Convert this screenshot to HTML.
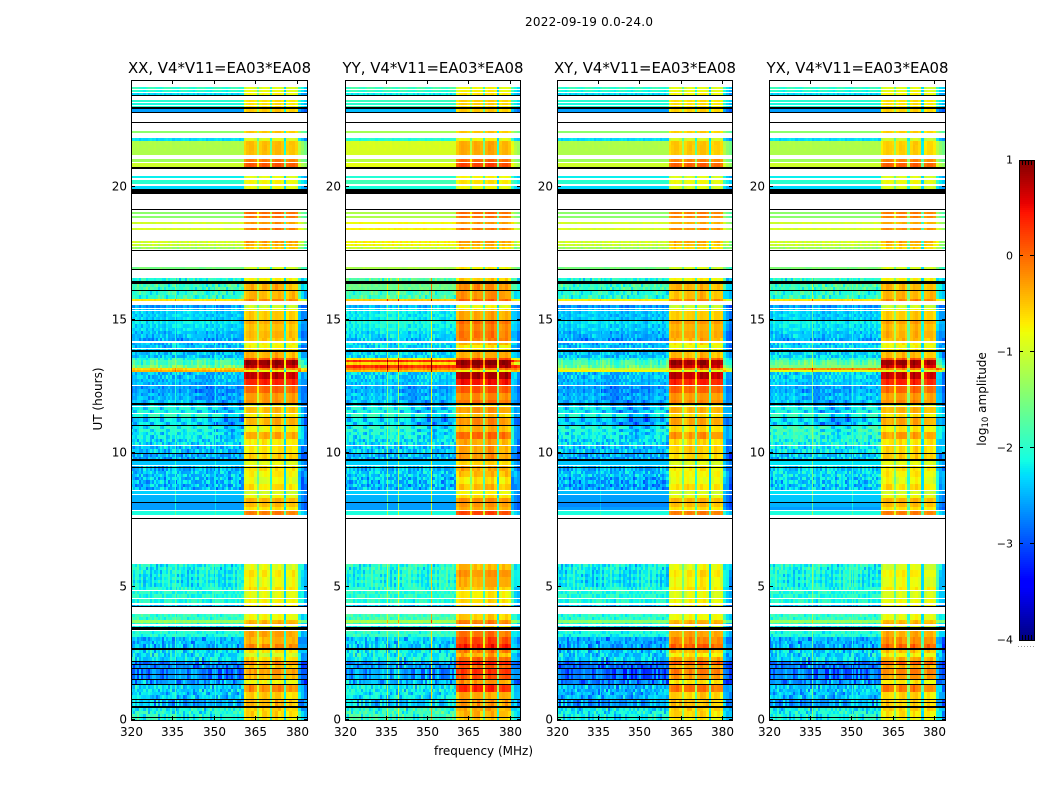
<!DOCTYPE html>
<html lang="en">
<head>
<meta charset="utf-8">
<title>2022-09-19 0.0-24.0</title>
<style>
html,body{margin:0;padding:0;background:#fff;width:1050px;height:800px;overflow:hidden}
svg{display:block}
text{font-family:"DejaVu Sans","Liberation Sans",sans-serif;fill:#000}
</style>
</head>
<body>
<svg id="figure" xmlns="http://www.w3.org/2000/svg" width="1050" height="800" viewBox="0 0 1050 800">
  <text x="589" y="26" font-size="12" text-anchor="middle" textLength="128">2022-09-19 0.0-24.0</text>
  <text x="483.5" y="755" font-size="12" text-anchor="middle">frequency (MHz)</text>
  <text x="0" y="0" font-size="12" text-anchor="middle" transform="translate(102 399) rotate(-90)">UT (hours)</text>
  <text x="0" y="0" font-size="12" text-anchor="middle" transform="translate(986 399) rotate(-90)">log<tspan font-size="8.5" dy="2">10</tspan><tspan dy="-2"> amplitude</tspan></text>
</svg>
<script>
/* ---------- chart data ---------- */
const W = 'white';
const K = 'black';

const panelNames = ['XX', 'YY', 'XY', 'YX'];
const baselineLabel = 'V4*V11=EA03*EA08';
const xTickValues = [320, 335, 350, 365, 380];
const yTickValues = [0, 5, 10, 15, 20];
const cbarTickValues = [1, 0, -1, -2, -3, -4];
const freqMin = 320;
const freqMax = 384;
const hourMin = 0;
const hourMax = 24;
const levelMin = -4;
const levelMax = 1;

/* frequency channels: 0.75 MHz background channels up to bandStart, then these edges (MHz) */
const backgroundChannelMHz = 0.75;
const bandStart = 360.7;
const bandEdges = [361.5,362.5,363.5,364.5,365.5,366.2,367.2,368.2,369.2,370.2,371.1,372.1,373.1,374.2,375.3,376.2,377.2,378.3,379.3,380.4,381.5,382.7,384];
const bandKind = 'SSSSSGSSSSGSSSSGSSSSEEE';
const bandChannelOffset = [-0.12,0.02,0.08,0.05,-0.03, -0.75, -0.05,0.06,0.06,-0.02, -1.15, 0,0.1,0.1,-0.02, -1.6, -0.1,0,0.02,-0.1, 0.05,-0.2,-0.35];

/* time rows, top edge in hours; each row runs down to the next edge */
const rowTop = [
 24.00,23.74,23.66,23.63,23.55,23.51,23.44,23.40,23.25,23.18,
 23.14,23.06,23.03,22.97,22.93,22.91,22.80,22.76,22.43,22.39,
 22.09,22.01,21.83,21.71,21.19,21.04,20.94,20.89,20.74,20.66,
 20.40,20.33,20.25,20.10,20.03,19.91,19.73,19.16,19.13,19.05,
 18.98,18.90,18.83,18.68,18.60,18.45,18.38,17.96,17.89,17.85,
 17.78,17.74,17.66,17.63,17.59,16.99,16.91,16.88,16.58,16.46,
 16.35,16.13,16.09,15.79,15.71,15.56,15.45,15.41,15.38,15.34,
 15.00,14.96,14.21,14.14,13.95,13.91,13.86,13.80,13.58,13.50,
 13.42,13.31,13.20,13.13,13.05,12.56,12.53,11.89,11.83,11.78,
 11.74,11.51,11.48,11.36,11.31,11.06,11.03,10.31,10.28,10.03,
 9.99,9.77,9.73,9.56,9.53,9.49,9.45,8.63,8.59,8.48,
 8.44,8.18,8.12,7.89,7.84,7.67,7.58,7.54,5.85,4.88,
 4.84,4.58,4.54,4.39,4.33,4.28,4.24,3.98,3.75,3.64,
 3.60,3.53,3.47,3.39,3.34,3.11,2.70,2.64,2.23,2.19,
 2.10,2.06,1.95,1.91,1.73,1.67,1.54,1.50,1.35,1.31,
 0.79,0.75,0.68,0.64,0.51,0.45,0.13,0.09];

/* log10 amplitude per row, background part of the band */
const rowBackground = [
 W,-2.0,W,-2.1,W,-2.4,K,W,-2.0,W,
 -2.1,W,-2.0,K,W,-2.6,K,W,K,W,
 -1.4,W,-2.3,-1.2,W,-1.3,W,-1.0,K,W,
 -2.2,W,-2.0,W,-2.3,K,W,K,W,-1.4,
 W,-1.4,W,-1.0,W,-1.0,W,-1.0,W,-1.05,
 W,-1.3,W,K,W,-1.5,K,W,-2.1,K,
 -1.9,K,-2.0,-0.6,W,-2.6,W,-2.4,W,-2.55,
 K,-2.55,W,-2.4,W,-2.3,K,-2.35,-2.0,-1.8,
 -1.8,-1.8,-0.6,-1.0,-2.5,W,-2.5,K,-2.4,W,
 -2.4,W,-2.3,K,-2.6,K,-2.35,W,-2.4,K,
 -2.55,K,-2.4,W,-2.4,K,-2.5,W,-2.35,W,
 -2.5,K,-2.6,W,-2.1,W,K,W,-2.2,W,
 -2.2,W,-2.05,W,-2.4,K,W,-2.05,-1.4,-2.2,
 W,-2.3,K,W,-2.3,-2.4,K,-2.2,K,-2.7,
 K,-2.65,K,-2.7,K,-2.65,K,-2.55,K,-2.3,
 K,-2.45,K,-2.45,K,-2.1,K,-2.1];

/* log10 amplitude per row, the strong 361-380 MHz sub-bands */
const rowBand = [
 W,-1.0,W,-0.95,W,-0.9,K,W,-0.75,W,
 -0.75,W,-0.75,K,W,-0.6,K,W,K,W,
 -0.6,W,-1.0,-0.55,W,-0.2,W,0.0,K,W,
 -0.95,W,-0.85,W,-0.9,K,W,K,W,-0.1,
 W,-0.15,W,-0.35,W,-0.25,W,-0.35,W,-0.5,
 W,-0.6,W,K,W,-1.0,K,W,-0.85,K,
 -0.5,K,-0.4,-0.4,W,-1.0,W,-0.8,W,-0.8,
 K,-0.55,W,-0.85,W,-0.7,K,-0.35,0.2,0.85,
 0.85,0.85,0.0,-0.7,0.5,W,-0.25,K,-0.95,W,
 -0.85,W,-0.8,K,-0.9,K,-0.7,W,-0.85,K,
 -0.85,K,-0.85,W,-0.85,K,-0.85,W,-0.85,W,
 -0.7,K,-0.75,W,-0.2,W,K,W,-0.9,W,
 -0.9,W,-0.85,W,-0.8,K,W,-0.8,-0.9,-0.8,
 W,-0.7,K,W,-0.7,-0.35,K,-0.85,K,-0.4,
 K,-0.45,K,-0.45,K,-0.6,K,-0.65,K,-0.5,
 K,-0.65,K,-0.65,K,-0.6,K,-0.75];

/* per-hour offsets of each correlation relative to the rows above (index = hour) */
const backgroundOffsetXX = [0,0,0,0,0,0,0,0,0,0,0,0,0,0,0,0,0,0,0,0,0,0,0,0];
const backgroundOffsetYY = [.15,.15,.1,.1,.05,.1,0,0,0,.05,.05,0,.1,.1,.15,.15,.3,.25,.2,.2,.15,.25,.15,.1];
const backgroundOffsetXY = [-.1,-.15,-.1,-.05,0,-.05,0,0,-.1,0,0,-.1,0,0,-.05,-.05,0,0,0,0,0,0,0,0];
const backgroundOffsetYX = [-.05,-.05,-.05,0,0,.05,0,0,.1,.15,.2,0,.1,.1,.05,0,.05,0,0,0,0,0,0,0];
const bandOffsetXX = [0,0,0,0,0,0,0,0,0,0,0,0,0,0,0,0,0,0,0,0,0,0,0,0];
const bandOffsetYY = [.2,.55,.6,.25,.15,.45,.3,.3,.2,.3,.35,.2,.1,.05,.35,.2,.2,0,0,0,.1,.1,0,.1];
const bandOffsetXY = [0,.15,.25,0,0,.05,0,0,0,-.05,.1,.05,0,-.05,.1,0,0,-.1,-.1,-.1,-.05,-.05,-.05,0];
const bandOffsetYX = [-.05,.1,.2,-.05,-.05,-.05,0,0,0,0,.05,.05,0,-.05,.05,0,0,-.1,-.1,-.1,-.05,-.1,-.05,0];

/* horizontal band ripple: one digit per quarter hour, bottom first, 0-9 around 4.5 */
const bandRipple = [
 "4564","7364","7364","7284","4546","5645","5555","5555",
 "7364","5647","6473","8474","4736","3545","5545","6474",
 "5555","5555","5555","5555","5555","5555","5555","5555"];

/* the 13 h interference burst: absolute background level per correlation */
const burstRowTop = [13.58,13.50,13.42,13.31,13.20,13.13];
const burstXX = [-2.0,-1.75,-1.8,-1.6,-0.6,-0.4];
const burstYY = [-0.7,0.3,-0.6,0.3,-0.15,-0.5];
const burstXY = [-2.0,-1.8,-1.75,-1.7,-1.1,-0.8];
const burstYX = [-1.95,-1.7,-1.6,-1.5,-0.2,-0.9];

/* narrow interference channels */
const rfiMaxHour = 16.6;
const rfiFreqXX = [335.9,350.3];
const rfiGainXX = [0.45,0.3];
const rfiFreqYY = [335.6,339.6,351.6];
const rfiGainYY = [0.9,1.1,1.6];
const rfiFreqXY = [335.6];
const rfiGainXY = [0.2];
const rfiFreqYX = [335.6,350.3];
const rfiGainYX = [0.8,0.35];

/* background amplitude texture, quarter-hour rows (bottom first), 0-9 around a neutral 5 */
const mottle = [
"675948367586749305867253948675164938572604837265947381",
"586370495827164930587246193857260491738265049173625849",
"294718360572938416072593840617283950472836105938274065",
"138405729361840572649103857261049385027461938506274183",
"759263084716395028476150938462710593847261905738426159",
"460375918264037591826403759182630475918260374951826047",
"318270563948271065394827156039482716053948217605394820",
"203859174620385917463028591746203589174620358917462038",
"371940628571394062857139406285713904628517394062851739",
"250481693724058169372405816937240518693724051869372405",
"148392057641839205764183920576418392057641839205764183",
"372610495837261049583726104958372610495837261049583726",
"678978897656789887654567897889765678988765456789788976",
"567887654345678876543345678765434567887654334567876543",
"456789887654567898876545678988765456789887654567898875",
"356789876543456787654345678987654345678765434567898763",
"345678987654345678987654345678987654345678976543456762",
"234567876543234567876543234567876543234567876543345651",
"556789987654456789987654456788976543456789987654456764",
"678998765433567899876543345678998765433567899876543355",
"889976543321334567899876543321234567899765432123456787",
"778998765432223456778998654322134567889987543221345676",
"667899998765332123567899998654322135678999986543213566",
"345789986532224567998754322145678997654322135678986535",
"",
"",
"",
"",
"",
"",
"",
"",
"",
"",
"889965431234579986421345678864213579987642135798654212",
"778843212356899986532167889975421368998753214689986531",
"456678321356889976532589998764213467889965324578998642",
"123567887654321236789875432124679886531234689987642135",
"",
"345788632123467899874212356887531245789985321245678642",
"322456785421357886543212678885421236787653212467886531",
"543467897654213678996532136789986421346789865321467887",
"223456789987654367899987654678999876567899876543213321",
"112345567899998889999988877889999887789988765432122211",
"223456789999999899999998888899999988999887654321111211",
"334567899999999999999999888999999998999887654321101211",
"346567889999988877889999887778998877887665432100123322",
"345645678988776556788987765667887665445332110123445433",
"223456567788765445667887654456776543321100123445556533",
"112334456678654334556776543345665432110011234456643322",
"334556678876543345678876544556776543322334456678876544",
"443677568899765324568899753324568877532212345667898755",
"567543268899865321267899764312467899753211246789986544",
"654321256788732124567765321245678875321245678875432113",
"765433245567743212356887643212456788654321234567753223",
"345567823344567798763212345678823344567733224455677433",
"223456876543212345678976543212345678976543221345678765",
"445678834567899887723344567889945567788334455677884455",
"567889945667899998845567788999956677889945667788995566",
"678999956788999999956678899999967788999956778899996654",
"567889845667788889945567788889945667788844556677885565",
"345667723344566778834455667788223344566722334455667655",
"223445512233445566223344556677112233445511223344556544",
"335682467359146825736914682573691468257369146825736944",
"462785369147825936148275936147825936148259361478259365",
"571846935728469357284693572846935728469357284693572855",
"359174682517468251746825174682517468251746825174682544",
"241637582416375824163758241637582416375824163758241633",
"356184729561847295618472956184729561847295618472956144",
"234561786543456787654345678765434567876543456787654344",
"563218642975318642975318642975318642975318642975318633",
"675429753186429753186429753186429753186429753186429744",
"563476856789887654345678998765433456789887654334567833",
"543678945567889754467889755446678897544667889755446678",
"452786643355776644335577664433557766443355776644335566",
"", "", "45675", "56764", "", "", "", "",
"", "", "56475645", "64756463", "54678546", "", "", "",
"", "", "65748395", "47586364", "57483659", "46837527", "53746825", "", "", ""];

/* ---------- scales ---------- */
const panelLeft = [131, 344.5, 556.5, 768.5];
const panelRight = [308, 520.5, 733, 945.5];
const plotTop = 80;
const plotBottom = 720;
const cbarLeft = 1019;
const cbarRight = 1034;
const cbarTop = 160;
const cbarBottom = 640;

function xScale(panel, freq) {
  return panelLeft[panel] + (freq - freqMin) / (freqMax - freqMin) * (panelRight[panel] - panelLeft[panel]);
}
function yScale(hour) {
  return plotBottom - (hour - hourMin) / (hourMax - hourMin) * (plotBottom - plotTop);
}
function cbarScale(level) {
  return cbarBottom - (level - levelMin) / (levelMax - levelMin) * (cbarBottom - cbarTop);
}
function clamp01(v) { return Math.max(0, Math.min(1, v)); }
function jet(level) {
  const t = clamp01((level - levelMin) / (levelMax - levelMin));
  const r = t < 0.35 ? 0 : t < 0.66 ? (t - 0.35) / 0.31 : t < 0.89 ? 1 : 1 - (t - 0.89) / 0.11 * 0.5;
  const g = t < 0.125 ? 0 : t < 0.375 ? (t - 0.125) / 0.25 : t < 0.64 ? 1 : t < 0.91 ? 1 - (t - 0.64) / 0.27 : 0;
  const b = t < 0.11 ? 0.5 + t / 0.11 * 0.5 : t < 0.34 ? 1 : t < 0.65 ? 1 - (t - 0.34) / 0.31 : 0;
  return 'rgb(' + Math.round(r * 255) + ',' + Math.round(g * 255) + ',' + Math.round(b * 255) + ')';
}
function texture(hour, index) {
  const row = mottle[Math.min(mottle.length - 1, Math.floor(hour * 4))];
  if (!row) return 0;
  const broad = parseInt(row[index % row.length], 10) - 5;
  const fine = parseInt(row[(index * 7 + 3) % row.length], 10) - 5;
  return broad * 0.05 + fine * 0.07;
}
function ripple(hour) {
  const group = bandRipple[Math.min(23, Math.floor(hour))];
  return (parseInt(group[Math.min(3, Math.floor((hour % 1) * 4))], 10) - 4.5) * 0.11;
}

/* channel grid */
const channelEdges = [];
const channelKind = [];
const channelOffset = [];
for (let f = freqMin; f < bandStart - 0.4; f += backgroundChannelMHz) {
  channelEdges.push(f);
  channelKind.push('b');
  channelOffset.push(0);
}
channelEdges.push(bandStart);
const backgroundChannels = channelKind.length;
bandEdges.forEach(function (edge, i) {
  channelEdges.push(edge);
  channelKind.push(bandKind[i]);
  channelOffset.push(bandChannelOffset[i]);
});

const NS = 'http://www.w3.org/2000/svg';
const figure = document.getElementById('figure');
function make(tag, attrs) {
  const el = document.createElementNS(NS, tag);
  for (const key in attrs) el.setAttribute(key, attrs[key]);
  return el;
}

const backgroundOffsets = [backgroundOffsetXX, backgroundOffsetYY, backgroundOffsetXY, backgroundOffsetYX];
const bandOffsets = [bandOffsetXX, bandOffsetYY, bandOffsetXY, bandOffsetYX];
const bursts = [burstXX, burstYY, burstXY, burstYX];
const rfiFreqs = [rfiFreqXX, rfiFreqYY, rfiFreqXY, rfiFreqYX];
const rfiGains = [rfiGainXX, rfiGainYY, rfiGainXY, rfiGainYX];

function drawPanel(panel) {
  const left = Math.round(xScale(panel, freqMin));
  const right = Math.round(xScale(panel, freqMax));
  const name = panelNames[panel].toLowerCase();
  const group = make('g', {'shape-rendering': 'crispEdges'});
  
  

  for (let r = 0; r < rowTop.length; r++) {
    const top = rowTop[r];
    const bottom = r + 1 < rowTop.length ? rowTop[r + 1] : hourMin;
    const bg = rowBackground[r];
    const band = rowBand[r];
    if (bg === W) continue;
    if (bg === K) {
      const line = make('rect', {x: left, y: Math.round(yScale(top)), width: right - left, height: Math.max(1, Math.round(yScale(bottom)) - Math.round(yScale(top))), fill: '#000'});
      
      
      group.appendChild(line);
      continue;
    }
    const steps = Math.max(1, Math.round((top - bottom) / 0.125));
    const burstIndex = burstRowTop.indexOf(top);
    for (let s = 0; s < steps; s++) {
      const h1 = top - (top - bottom) * s / steps;
      const h2 = top - (top - bottom) * (s + 1) / steps;
      const hourIndex = Math.min(23, Math.floor(h2));
      let bgLevel = bg + backgroundOffsets[panel][hourIndex];
      if (burstIndex >= 0) bgLevel = bursts[panel][burstIndex];
      const bandLevel = band + bandOffsets[panel][hourIndex] + ripple(h2);
      const y1 = Math.round(yScale(h1));
      const y2 = Math.max(y1 + 1, Math.round(yScale(h2)));
      const rowShift = s % 2 === 1 ? 5 : 0;
      for (let c = 0; c < channelKind.length; c++) {
        const kind = channelKind[c];
        let level;
        if (kind === 'b') {
          level = bgLevel + texture(h2, c + rowShift + panel * 5) * (bgLevel > -1.6 ? 0.35 : 1);
        } else if (kind === 'S') {
          level = bandLevel + channelOffset[c] + texture(h2, c - backgroundChannels + panel * 4) * 0.35;
        } else if (kind === 'G') {
          level = Math.max(bandLevel + channelOffset[c], -2.3);
        } else {
          level = bgLevel + channelOffset[c] + texture(h2, c + panel) * 0.8;
        }
        const x1 = Math.round(xScale(panel, channelEdges[c]));
        const x2 = Math.round(xScale(panel, channelEdges[c + 1]));
        if (x2 <= x1) continue;
        const cell = make('rect', {x: x1, y: y1, width: x2 - x1, height: y2 - y1, fill: jet(level)});
        
        
        group.appendChild(cell);
      }
      if (h1 <= rfiMaxHour) {
        for (let i = 0; i < rfiFreqs[panel].length; i++) {
          const x = Math.round(xScale(panel, rfiFreqs[panel][i]));
          const mark = make('rect', {x: x, y: y1, width: 1, height: y2 - y1, fill: jet(bgLevel + rfiGains[panel][i])});
          
          
          group.appendChild(mark);
        }
      }
    }
  }
  figure.appendChild(group);

  const frame = make('rect', {x: left + 0.5, y: plotTop + 0.5, width: right - left - 1, height: plotBottom - plotTop, fill: 'none', stroke: '#000', 'stroke-width': 1, 'shape-rendering': 'crispEdges'});
  
  
  figure.appendChild(frame);

  const title = make('text', {x: (left + right) / 2, y: 73, 'font-size': 14.9, 'text-anchor': 'middle'});
  title.textContent = panelNames[panel] + ', ' + baselineLabel;
  
  
  figure.appendChild(title);

  xTickValues.forEach(function (value) {
    const x = Math.round(xScale(panel, value)) + 0.5;
    [[plotBottom, plotBottom - 4], [plotTop, plotTop + 4]].forEach(function (pair) {
      const tick = make('line', {x1: x, x2: x, y1: pair[0], y2: pair[1], stroke: '#000', 'stroke-width': 1, 'shape-rendering': 'crispEdges'});
      
      
      figure.appendChild(tick);
    });
    const label = make('text', {x: x, y: 736, 'font-size': 12, 'text-anchor': 'middle'});
    label.textContent = value;
    
    
    figure.appendChild(label);
  });

  yTickValues.forEach(function (value) {
    const y = Math.round(yScale(value)) - 0.5;
    [[left, left + 4], [right, right - 4]].forEach(function (pair) {
      const tick = make('line', {x1: pair[0], x2: pair[1], y1: y, y2: y, stroke: '#000', 'stroke-width': 1, 'shape-rendering': 'crispEdges'});
      
      
      figure.appendChild(tick);
    });
    const label = make('text', {x: left - 4, y: y + 4, 'font-size': 12, 'text-anchor': 'end'});
    label.textContent = value;
    
    
    figure.appendChild(label);
  });
}

function drawColorbar() {
  const group = make('g', {'shape-rendering': 'crispEdges'});
  
  
  for (let y = cbarTop; y < cbarBottom; y += 2) {
    const level = levelMax - (y + 1 - cbarTop) / (cbarBottom - cbarTop) * (levelMax - levelMin);
    const swatch = make('rect', {x: cbarLeft, y: y, width: cbarRight - cbarLeft, height: 2, fill: jet(level)});
    
    
    group.appendChild(swatch);
  }
  figure.appendChild(group);

  const frame = make('rect', {x: cbarLeft + 0.5, y: cbarTop + 0.5, width: cbarRight - cbarLeft, height: cbarBottom - cbarTop, fill: 'none', stroke: '#000', 'stroke-width': 1, 'shape-rendering': 'crispEdges'});
  
  
  figure.appendChild(frame);

  cbarTickValues.forEach(function (value) {
    const y = Math.round(cbarScale(value)) - 0.5;
    if (value !== levelMin && value !== levelMax) {
      [[cbarLeft, cbarLeft + 4], [cbarRight, cbarRight - 4]].forEach(function (pair) {
        const tick = make('line', {x1: pair[0], x2: pair[1], y1: y, y2: y, stroke: '#000', 'stroke-width': 1, 'shape-rendering': 'crispEdges'});
        
        
        figure.appendChild(tick);
      });
    }
    const label = make('text', {x: cbarLeft - 6, y: y + 4, 'font-size': 11, 'text-anchor': 'end'});
    label.textContent = value < 0 ? '\u2212' + Math.abs(value) : value;
    
    
    figure.appendChild(label);
  });

  [1022, 1025, 1028, 1031].forEach(function (x) {
    [[cbarTop, cbarTop + 5], [cbarBottom, cbarBottom - 5]].forEach(function (pair) {
      const tick = make('line', {x1: x + 0.5, x2: x + 0.5, y1: pair[0], y2: pair[1], stroke: '#000', 'stroke-width': 1, 'shape-rendering': 'crispEdges'});
      
      
      figure.appendChild(tick);
    });
  });

  [1018, 1021, 1024, 1027, 1030, 1033].forEach(function (x) {
    const dot = make('rect', {x: x, y: 646, width: 1, height: 1, fill: '#9a9a9a', 'shape-rendering': 'crispEdges'});
    
    
    figure.appendChild(dot);
  });
}

for (let p = 0; p < panelNames.length; p++) drawPanel(p);
drawColorbar();
</script>
</body>
</html>
